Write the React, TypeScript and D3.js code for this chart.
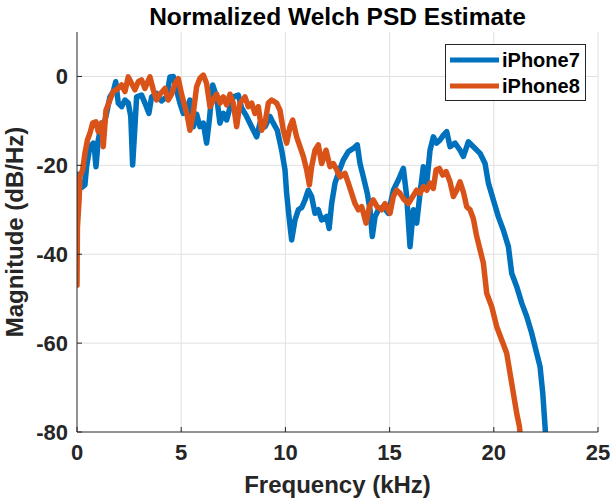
import React from "react";
import * as d3 from "d3";

const title = "Normalized Welch PSD Estimate";
const xLabel = "Frequency (kHz)";
const yLabel = "Magnitude (dB/Hz)";
const seriesNames = ["iPhone7", "iPhone8"];
const seriesColors = ["#0072BD", "#D95319"];
const xTicks = [0, 5, 10, 15, 20, 25];
const yTicks = [-80, -60, -40, -20, 0];

const freq7 = [0, 0.03, 0.1, 0.22, 0.38, 0.46, 0.62, 0.78, 0.85, 0.91, 1.02, 1.18, 1.26, 1.42, 1.58, 1.74, 1.86, 1.98, 2.14, 2.3, 2.46, 2.58, 2.67, 2.78, 2.86, 3.1, 3.26, 3.45, 3.58, 3.82, 4.06, 4.3, 4.46, 4.62, 4.74, 4.94, 5.1, 5.26, 5.42, 5.58, 5.74, 5.9, 6.06, 6.22, 6.35, 6.51, 6.7, 6.86, 7.02, 7.18, 7.34, 7.5, 7.74, 7.9, 8.14, 8.38, 8.62, 8.78, 9.02, 9.26, 9.42, 9.61, 9.82, 9.98, 10.06, 10.19, 10.3, 10.46, 10.62, 10.78, 10.94, 11.1, 11.26, 11.42, 11.58, 11.74, 11.98, 12.1, 12.22, 12.38, 12.54, 12.78, 13.02, 13.26, 13.45, 13.58, 13.74, 13.93, 14.06, 14.17, 14.3, 14.46, 14.7, 14.94, 15.18, 15.42, 15.66, 15.82, 15.98, 16.14, 16.3, 16.46, 16.62, 16.78, 16.94, 17.1, 17.26, 17.42, 17.58, 17.74, 17.9, 18.14, 18.38, 18.54, 18.78, 19.02, 19.34, 19.58, 19.74, 19.98, 20.22, 20.46, 20.7, 20.86, 21.1, 21.34, 21.58, 21.82, 22.06, 22.22, 22.35, 22.46, 22.5];
const mag7 = [-30, -22, -22.5, -25, -24.4, -20.3, -15.8, -15, -17, -20.3, -14.3, -10.5, -11.5, -8.3, -4.6, -3.4, -1.2, -6, -6.8, -5.3, -6, -9, -19.9, -11.3, -4.6, -4.2, -6, -8.3, -4.6, -3.8, -5.5, -4.6, -0.1, 0, -2.5, -6, -8.3, -7.5, -5.3, -11.3, -8.5, -11.3, -10.5, -15, -9.8, -1.9, -4.6, -10.5, -8.3, -9.8, -7, -4.6, -4.2, -7.1, -9, -11.3, -13.6, -10.5, -11.3, -9, -10.5, -12.1, -16.6, -21, -26.3, -32.3, -36.8, -32.3, -30, -29.5, -27.8, -25.6, -27, -30.8, -30, -32.3, -31.5, -34.2, -28.6, -24, -21.8, -18.8, -16.9, -16.2, -15.4, -19.6, -22.6, -26.3, -30, -36, -31.6, -30, -29.3, -30.8, -25.6, -23.3, -20.7, -27, -38.3, -30, -33, -26.3, -20.3, -24, -16.6, -13.6, -15, -14.3, -13.2, -12.4, -15.8, -15, -16.6, -18, -14.7, -15.8, -17.3, -19.6, -24, -27.8, -31.6, -34.6, -38.3, -44.3, -47.3, -51, -54, -57.8, -62.3, -65.3, -71.3, -78.8, -82];

const freq8 = [0, 0.02, 0.1, 0.14, 0.27, 0.38, 0.5, 0.62, 0.75, 0.91, 1.02, 1.18, 1.26, 1.39, 1.58, 1.74, 1.98, 2.14, 2.3, 2.46, 2.62, 2.78, 2.94, 3.1, 3.26, 3.5, 3.66, 3.82, 3.98, 4.22, 4.38, 4.54, 4.7, 4.86, 5.02, 5.18, 5.3, 5.42, 5.58, 5.74, 5.9, 6.06, 6.22, 6.38, 6.54, 6.7, 6.86, 7.02, 7.18, 7.34, 7.5, 7.66, 7.82, 8.06, 8.22, 8.38, 8.54, 8.7, 8.86, 9.02, 9.18, 9.34, 9.58, 9.74, 9.9, 10.06, 10.22, 10.35, 10.54, 10.7, 10.86, 11.02, 11.15, 11.26, 11.42, 11.58, 11.74, 11.95, 12.14, 12.3, 12.46, 12.62, 12.86, 13.02, 13.18, 13.34, 13.5, 13.66, 13.87, 14.03, 14.22, 14.4, 14.62, 14.78, 15.02, 15.18, 15.34, 15.5, 15.66, 15.9, 16.06, 16.3, 16.46, 16.62, 16.78, 16.94, 17.1, 17.23, 17.39, 17.55, 17.71, 17.9, 18.06, 18.22, 18.38, 18.54, 18.7, 18.86, 19.02, 19.18, 19.34, 19.5, 19.66, 19.9, 20.14, 20.38, 20.62, 20.78, 20.94, 21.1, 21.23, 21.3];
const mag8 = [-47, -34, -27.8, -22.6, -21, -17.3, -14.3, -12.8, -10.5, -10.2, -12.4, -10.5, -15.8, -7.6, -5.3, -3.4, -2.7, -1.9, -3.4, -0.1, -1.6, -3, -1.2, -0.8, -2.7, -0.1, -3, -5.3, -4, -2.7, -5.3, -4, -1.6, -0.5, -4, -6.8, -9, -12.1, -8.3, -2.3, -0.4, 0.3, -1.6, -6.8, -5.3, -4, -6, -4.6, -6.4, -4, -6, -11.3, -6, -4.6, -6.8, -6, -8.3, -6.8, -12.1, -10.5, -6, -5.3, -6, -7.6, -12.1, -15, -11.3, -9.8, -13.6, -15.8, -18, -21, -24.4, -20.3, -16.6, -15.4, -19.6, -16.6, -20.3, -19.6, -21, -22.6, -21.8, -24, -26.3, -28.6, -30, -29.3, -33, -29.3, -27.8, -29.3, -30, -28.6, -30.8, -27, -25.6, -26.3, -27.5, -28.6, -27.4, -25.6, -26.3, -24.8, -25.6, -24, -25.2, -21, -20.7, -22.2, -21.4, -23.7, -27, -25.6, -23.7, -26, -29.3, -30, -32, -36, -39, -42, -48.8, -51.8, -56.3, -59.3, -62.3, -66.8, -71.3, -75.8, -78.8, -82];

const W = 610;
const H = 500;
const plot = { left: 77, top: 32, right: 598, bottom: 432 };
const FONT = "'Liberation Sans', Arial, Helvetica, sans-serif";
const AX = "#262626";

export default function App() {
  const x = d3.scaleLinear().domain([0, 25]).range([plot.left, plot.right]);
  const y = d3.scaleLinear().domain([-80, 10]).range([plot.bottom, plot.top]);
  const line = d3
    .line<[number, number]>()
    .x((d) => x(d[0]))
    .y((d) => y(d[1]));
  const series = [
    freq7.map((f, i) => [f, mag7[i]] as [number, number]),
    freq8.map((f, i) => [f, mag8[i]] as [number, number]),
  ];
  const tickLen = 5;
  return (
    <svg
      width={W}
      height={H}
      style={{ position: "absolute", left: 0, top: 0, background: "#fff" }}
      fontFamily={FONT}
      fontWeight="bold"
    >
      <rect x={0} y={0} width={W} height={H} fill="#fff" />
      <defs>
        <clipPath id="plotclip">
          <rect x={plot.left} y={plot.top} width={plot.right - plot.left} height={plot.bottom - plot.top} />
        </clipPath>
      </defs>
      {xTicks.filter((t) => t !== 0).map((t) => (
        <line key={"gx" + t} x1={x(t)} x2={x(t)} y1={plot.top} y2={plot.bottom} stroke="#e0e0e0" strokeWidth={1} />
      ))}
      {yTicks.filter((t) => t !== -80).map((t) => (
        <line key={"gy" + t} x1={plot.left} x2={plot.right} y1={y(t)} y2={y(t)} stroke="#e0e0e0" strokeWidth={1} />
      ))}
      <g clipPath="url(#plotclip)">
        {series.map((s, i) => (
          <path key={i} d={line(s) || ""} fill="none" stroke={seriesColors[i]} strokeWidth={5.5} strokeLinejoin="round" strokeLinecap="round" />
        ))}
      </g>
      <line x1={plot.left} x2={plot.left} y1={plot.top} y2={plot.bottom} stroke={AX} strokeWidth={1} />
      <line x1={plot.left} x2={plot.right} y1={plot.bottom} y2={plot.bottom} stroke={AX} strokeWidth={1} />
      {yTicks.map((t) => (
        <g key={"yt" + t}>
          <line x1={plot.left} x2={plot.left + tickLen} y1={y(t)} y2={y(t)} stroke={AX} />
          <text x={plot.left - 9} y={y(t)} dy="0.36em" textAnchor="end" fontSize={22} fill={AX}>
            {t}
          </text>
        </g>
      ))}
      {xTicks.map((t) => (
        <g key={"xt" + t}>
          <line x1={x(t)} x2={x(t)} y1={plot.bottom} y2={plot.bottom - tickLen} stroke={AX} />
          <text x={x(t)} y={460} textAnchor="middle" fontSize={22} fill={AX}>
            {t}
          </text>
        </g>
      ))}
      <text x={(plot.left + plot.right) / 2} y={493} textAnchor="middle" fontSize={24} fill={AX}>
        {xLabel}
      </text>
      <text transform={`translate(23,${(plot.top + plot.bottom) / 2}) rotate(-90)`} textAnchor="middle" fontSize={24} fill={AX}>
        {yLabel}
      </text>
      <text x={(plot.left + plot.right) / 2} y={25} textAnchor="middle" fontSize={24.5} fill="#000">
        {title}
      </text>
      <rect x={445.5} y={44.5} width={140} height={56} fill="#fff" stroke={AX} strokeWidth={1} />
      {seriesNames.map((n, i) => (
        <g key={n}>
          <line x1={450} x2={499} y1={60 + i * 26} y2={60 + i * 26} stroke={seriesColors[i]} strokeWidth={5} />
          <text x={502} y={60 + i * 26} dy="0.36em" fontSize={20} fill="#000">
            {n}
          </text>
        </g>
      ))}
    </svg>
  );
}
